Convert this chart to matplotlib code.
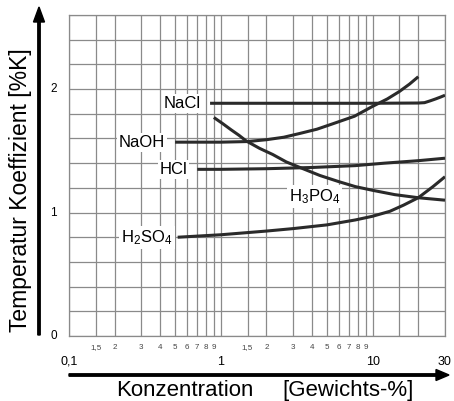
import matplotlib
matplotlib.use("Agg")
import matplotlib.pyplot as plt
from matplotlib.patches import FancyArrow

plt.rcParams['font.family'] = ['Liberation Sans', 'DejaVu Sans']
plt.rcParams['mathtext.fontset'] = 'custom'
plt.rcParams['mathtext.rm'] = 'Liberation Sans'
plt.rcParams['mathtext.it'] = 'Liberation Sans'

# Data (concentration in Gewichts-%, coefficient in %/K)
nacl_x = [0.85, 2, 5, 10, 20, 22, 24, 26, 28, 30]
nacl_y = [1.885, 1.885, 1.885, 1.885, 1.887, 1.89, 1.905, 1.92, 1.935, 1.95]
naoh_x = [0.5, 1, 1.5, 2, 2.6, 3.3, 4.3, 5.5, 7.6, 10, 12.5, 15, 17.5, 20]
naoh_y = [1.57, 1.57, 1.575, 1.59, 1.61, 1.64, 1.675, 1.72, 1.78, 1.86, 1.92, 1.98, 2.04, 2.10]
hcl_x = [0.7, 1, 2, 4, 7.7, 12, 20, 30]
hcl_y = [1.35, 1.35, 1.355, 1.365, 1.38, 1.40, 1.42, 1.44]
h3po4_x = [0.9, 1.03, 1.17, 1.32, 1.47, 1.8, 2.2, 2.7, 3.4, 4.5, 6, 7.7, 10, 14, 20, 30]
h3po4_y = [1.77, 1.72, 1.67, 1.625, 1.58, 1.52, 1.47, 1.41, 1.36, 1.30, 1.25, 1.21, 1.18, 1.145, 1.12, 1.10]
h2so4_x = [0.52, 1, 2, 3, 5, 7.7, 10, 13, 16, 20, 25, 30]
h2so4_y = [0.80, 0.82, 0.85, 0.87, 0.90, 0.94, 0.97, 1.01, 1.06, 1.12, 1.21, 1.29]

minor_ticks = [0.15, 0.2, 0.3, 0.4, 0.5, 0.6, 0.7, 0.8, 0.9,
               1.5, 2, 3, 4, 5, 6, 7, 8, 9]
minor_labels = ['1,5', '2', '3', '4', '5', '6', '7', '8', '9',
                '1,5', '2', '3', '4', '5', '6', '7', '8', '9']
major_ticks = [0.1, 1, 10, 30]
major_labels = ['0,1', '1', '10', '30']
extra_grid = [15, 20]
y_ticks = [0, 1, 2]
y_labels = ['0', '1', '2']

W, H = 454, 401
fig = plt.figure(figsize=(W / 100, H / 100), dpi=100)
ax = fig.add_axes([69 / W, 1 - 336 / H, (445 - 69) / W, (336 - 15) / H])
ax.set_xscale('log')
ax.set_xlim(0.1, 30)
ax.set_ylim(0, 2.6)

gc = '#8a8a8a'
for xv in minor_ticks + major_ticks + extra_grid:
    ax.axvline(xv, color=gc, lw=0.9, zorder=0)
for i in range(14):
    ax.axhline(i * 0.2, color=gc, lw=0.9, zorder=0)
for s in ax.spines.values():
    s.set_color(gc)
    s.set_linewidth(0.9)

ax.set_xticks([])
ax.set_yticks([])
ax.minorticks_off()

lc = '#2a2a2a'
for xs, ys in [(nacl_x, nacl_y), (naoh_x, naoh_y), (hcl_x, hcl_y),
               (h3po4_x, h3po4_y), (h2so4_x, h2so4_y)]:
    ax.plot(xs, ys, color=lc, lw=2.2, solid_capstyle='butt',
            solid_joinstyle='round', zorder=3)

bb = dict(facecolor='white', edgecolor='none', pad=1.5)
fs = 12
for lab, xs, ys, off in [('NaCl', nacl_x, nacl_y, -9),
                         ('NaOH', naoh_x, naoh_y, -10),
                         ('HCl', hcl_x, hcl_y, -10),
                         (r'H$_\mathregular{2}$SO$_\mathregular{4}$', h2so4_x, h2so4_y, -5)]:
    ax.annotate(lab, (xs[0], ys[0]), xytext=(off, 0), textcoords='offset pixels',
                ha='right', va='center', fontsize=fs, bbox=bb, zorder=4)
ax.text(4.14, 1.13, r'H$_\mathregular{3}$PO$_\mathregular{4}$', ha='center', va='center',
        fontsize=fs, bbox=bb, zorder=4)

# tick labels
for xv, lab in zip(minor_ticks, minor_labels):
    ax.text(xv, -0.09, lab, ha='center', va='center', fontsize=5.8, color='#444444')
for xv, lab in zip(major_ticks, major_labels):
    ax.text(xv, -0.21, lab, ha='center', va='center', fontsize=9)
for yv, lab in zip(y_ticks, y_labels):
    ax.text(0.079, yv, lab, ha='center', va='center', fontsize=8.5)

# axis arrows (figure coords)
fig.patches.append(FancyArrow(69 / W, 1 - 375 / H, (449 - 69) / W, 0,
                              width=2.4 / H, head_width=11 / H, head_length=13 / W,
                              length_includes_head=True, color='black',
                              transform=fig.transFigure, figure=fig))
fig.patches.append(FancyArrow(39 / W, 1 - 335 / H, 0, (335 - 7) / H,
                              width=2.4 / W, head_width=11 / W, head_length=15 / H,
                              length_includes_head=True, color='black',
                              transform=fig.transFigure, figure=fig))

fig.text(185 / W, 1 - 396 / H, 'Konzentration', ha='center', va='baseline', fontsize=16)
fig.text(348 / W, 1 - 396 / H, '[Gewichts-%]', ha='center', va='baseline', fontsize=16)
fig.text(21 / W, 1 - 190 / H, 'Temperatur Koeffizient [%K]', ha='center', va='center',
         fontsize=16.5, rotation=90)

fig.savefig('out.png', dpi=100)
